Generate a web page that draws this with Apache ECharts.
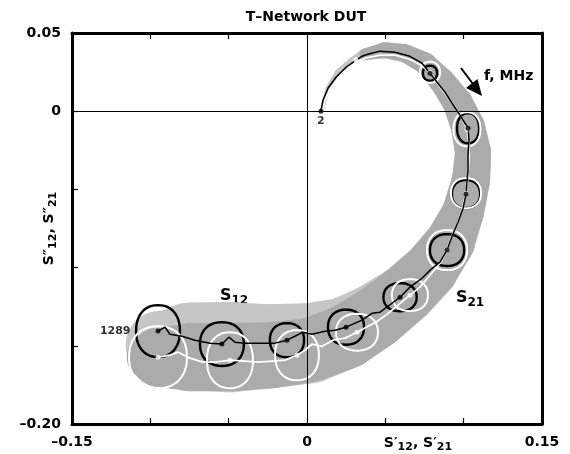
<!DOCTYPE html>
<html><head><meta charset="utf-8">
<script src="https://cdn.jsdelivr.net/npm/echarts@6/dist/echarts.min.js"></script>
<style>html,body{margin:0;padding:0;background:#fff}#c{width:570px;height:454px}</style>
</head><body><div id="c"></div>
<script>
// ---- tick labels ----
const xLabelValues = [-0.15, 0, 0.15];
const xLabelTexts = ['–0.15', '0', '0.15'];
const yLabelValues = [0.05, 0, -0.20];
const yLabelTexts = ['0.05', '0', '–0.20'];

// ---- S21 (black) trace ----
const s21Line = [
 [0.0089,0],[0.0102,0.0070],[0.0134,0.0147],[0.0185,0.0217],[0.0249,0.0281],[0.0313,0.0326],
 [0.0351,0.0351],[0.0389,0.0364],[0.0466,0.0384],[0.0562,0.0377],[0.0657,0.0351],[0.0734,0.0307],
 [0.0785,0.0243],[0.0830,0.0185],[0.0881,0.0121],[0.0926,0.0051],[0.0977,-0.0026],[0.1028,-0.0109],
 [0.1034,-0.0185],[0.1028,-0.0281],[0.1028,-0.0377],[0.1021,-0.0454],[0.1015,-0.0530],[0.0996,-0.0620],
 [0.0964,-0.0710],[0.0926,-0.0799],[0.0894,-0.0888],[0.0849,-0.0965],[0.0785,-0.1017],[0.0734,-0.1068],
 [0.0657,-0.1125],[0.0594,-0.1189],[0.0543,-0.1228],[0.0466,-0.1285],[0.0415,-0.1292],[0.0351,-0.1336],
 [0.0249,-0.1381],[0.0179,-0.1400],[0.0115,-0.1407],[0.0032,-0.1426],[-0.0026,-0.1413],[-0.0077,-0.1439],
 [-0.0128,-0.1464],[-0.0204,-0.1483],[-0.0300,-0.1483],[-0.0396,-0.1483],[-0.0460,-0.1477],[-0.0498,-0.1445],
 [-0.0543,-0.1489],[-0.0619,-0.1483],[-0.0715,-0.1464],[-0.0798,-0.1439],[-0.0875,-0.1426],[-0.0906,-0.1381],
 [-0.0951,-0.1406]
];
const s21Points = [[0.0785,0.0243],[0.1028,-0.0109],[0.1015,-0.0530],[0.0894,-0.0888],[0.0594,-0.1189],
 [0.0249,-0.1381],[-0.0128,-0.1464],[-0.0543,-0.1489],[-0.0951,-0.1406]];
const s21Unc = [[0.0045,0.0048],[0.0070,0.0096],[0.0090,0.0090],[0.0109,0.0102],[0.0106,0.0090],
 [0.0115,0.0112],[0.0109,0.0109],[0.0140,0.0140],[0.0140,0.0166]];

// ---- S12 (white) trace ----
const s12Line = [
 [0.0096,0],[0.0115,0.0070],[0.0147,0.0141],[0.0198,0.0211],[0.0262,0.0269],[0.0319,0.0313],
 [0.0370,0.0339],[0.0466,0.0358],[0.0562,0.0358],[0.0657,0.0332],[0.0728,0.0294],[0.0785,0.0249],
 [0.0836,0.0173],[0.0894,0.0096],[0.0945,0.0026],[0.0989,-0.0045],[0.1021,-0.0115],[0.1034,-0.0198],
 [0.1034,-0.0301],[0.1028,-0.0409],[0.1015,-0.0524],[0.0989,-0.0633],[0.0957,-0.0729],[0.0919,-0.0812],
 [0.0894,-0.0888],[0.0849,-0.0972],[0.0785,-0.1049],[0.0721,-0.1125],[0.0657,-0.1176],[0.0581,-0.1240],
 [0.0511,-0.1298],[0.0440,-0.1349],[0.0389,-0.1375],[0.0319,-0.1413],[0.0243,-0.1451],[0.0166,-0.1464],
 [0.0096,-0.1503],[0.0032,-0.1490],[-0.0013,-0.1528],[-0.0064,-0.1560],[-0.0140,-0.1592],[-0.0223,-0.1598],
 [-0.0313,-0.1605],[-0.0396,-0.1598],[-0.0492,-0.1592],[-0.0587,-0.1605],[-0.0664,-0.1605],[-0.0747,-0.1579],
 [-0.0823,-0.1541],[-0.0875,-0.1560],[-0.0951,-0.1573]
];
const s12Points = [[0.0313,0.0326],[0.0785,0.0249],[0.1021,-0.0115],[0.1015,-0.0524],[0.0894,-0.0888],[0.0657,-0.1176],
 [0.0319,-0.1413],[-0.0064,-0.1560],[-0.0492,-0.1592],[-0.0951,-0.1573]];
const s12Unc = [[0.0012,0.0012],[0.0064,0.0067],[0.0086,0.0109],[0.0096,0.0096],[0.0128,0.0128],[0.0115,0.0102],
 [0.0134,0.0118],[0.0140,0.0160],[0.0147,0.0179],[0.0185,0.0198]];

// ---- uncertainty band: [x, y, half-width] ----
const bandLight = [
 [0.0096,0.0010,0.0012],[0.0134,0.0147,0.0015],[0.0198,0.0250,0.0018],[0.0287,0.0326,0.0019],
 [0.0370,0.0364,0.0038],[0.0498,0.0390,0.0051],[0.0626,0.0371,0.0058],[0.0753,0.0307,0.0070],
 [0.0868,0.0185,0.0083],[0.0964,0.0051,0.0096],[0.1028,-0.0102,0.0109],[0.1060,-0.0262,0.0115],
 [0.1047,-0.0441,0.0122],[0.0996,-0.0646,0.0134],[0.0913,-0.0838,0.0160],[0.0785,-0.1017,0.0179],
 [0.0626,-0.1170,0.0192],[0.0434,-0.1311,0.0211],[0.0243,-0.1419,0.0230],[0.0019,-0.1483,0.0256],
 [-0.0236,-0.1503,0.0269],[-0.0492,-0.1509,0.0288],[-0.0747,-0.1503,0.0280],[-0.0938,-0.1496,0.0220],
 [-0.1002,-0.1496,0.0150]
];
const bandDark = [
 [0.0370,0.0364,0.0036],[0.0498,0.0390,0.0050],[0.0626,0.0371,0.0057],[0.0753,0.0307,0.0069],
 [0.0868,0.0185,0.0082],[0.0964,0.0051,0.0095],[0.1028,-0.0102,0.0108],[0.1060,-0.0262,0.0114],
 [0.1047,-0.0441,0.0121],[0.0996,-0.0646,0.0133],[0.0913,-0.0838,0.0158],[0.0785,-0.1017,0.0176],
 [0.0626,-0.1170,0.0188],[0.0434,-0.1324,0.0198],[0.0243,-0.1445,0.0205],[0.0019,-0.1528,0.0205],
 [-0.0236,-0.1560,0.0211],[-0.0492,-0.1573,0.0218],[-0.0747,-0.1573,0.0218],[-0.0938,-0.1573,0.0192],
 [-0.1010,-0.1573,0.0141]
];

const startPoint = [0.0089, 0];
const startLabel = '2';
const endPoint = [-0.0951, -0.1406];
const endLabel = '1289';

const FONT = 'DejaVu Sans';

function fmt(values, texts){
  return function(v){
    for (let i=0;i<values.length;i++) if (Math.abs(v-values[i])<1e-9) return texts[i];
    return '';
  };
}

function tube(nodes, color){
  return function(params, api){
    if (params.dataIndex !== 0) return null;
    const pts = nodes.map(n => api.coord([n[0], n[1]]));
    const rs = nodes.map(n => api.size([n[2], n[2]])[0]);
    const children = [];
    for (let i=0;i<pts.length;i++){
      children.push({type:'circle', shape:{cx:pts[i][0], cy:pts[i][1], r:rs[i]}, style:{fill:color}});
      if (i < pts.length-1){
        const a = pts[i], b = pts[i+1];
        const dx = b[0]-a[0], dy = b[1]-a[1];
        const L = Math.sqrt(dx*dx+dy*dy) || 1;
        const nx = -dy/L, ny = dx/L;
        children.push({type:'polygon', shape:{points:[
          [a[0]+nx*rs[i], a[1]+ny*rs[i]], [b[0]+nx*rs[i+1], b[1]+ny*rs[i+1]],
          [b[0]-nx*rs[i+1], b[1]-ny*rs[i+1]], [a[0]-nx*rs[i], a[1]-ny*rs[i]]]}, style:{fill:color}});
      }
    }
    return {type:'group', children};
  };
}

function blob(color, width){
  return function(params, api){
    const c = api.coord([api.value(0), api.value(1)]);
    const s = api.size([api.value(2), api.value(3)]);
    const pts = [];
    const N = 48, e = 0.9;
    for (let k=0;k<N;k++){
      const t = k/N*Math.PI*2;
      const ct = Math.cos(t), st = Math.sin(t);
      pts.push([c[0] + s[0]*Math.sign(ct)*Math.pow(Math.abs(ct), e), c[1] + s[1]*Math.sign(st)*Math.pow(Math.abs(st), e)]);
    }
    return {type:'polygon', shape:{points:pts}, style:{fill:'none', stroke:color, lineWidth:width}};
  };
}

const axisCommon = {
  type:'value',
  axisLine:{show:true, onZero:false, lineStyle:{color:'#000', width:3}},
  axisTick:{show:true, inside:true, length:6, lineStyle:{color:'#000', width:1.2}},
  splitLine:{show:false}
};
const labelStyle = {color:'#000', fontWeight:'bold', fontSize:14, fontFamily:FONT};
const subRich = {
  s:{fontSize:14, fontWeight:'bold', fontFamily:FONT, color:'#000', fill:'#000', lineHeight:20, verticalAlign:'middle'},
  b:{fontSize:11, fontWeight:'bold', fontFamily:FONT, color:'#000', fill:'#000', lineHeight:10, verticalAlign:'bottom'}
};
const bigRich = {
  s:{fontSize:16, fontWeight:'bold', fontFamily:FONT, fill:'#000', lineHeight:22, verticalAlign:'middle'},
  b:{fontSize:12, fontWeight:'bold', fontFamily:FONT, fill:'#000', lineHeight:11, verticalAlign:'bottom'}
};

const chart = echarts.init(document.getElementById('c'), null, {renderer:'canvas'});
chart.setOption({
  backgroundColor:'#fff',
  animation:false,
  grid:{left:72, right:28, top:33, bottom:30},
  xAxis:[
    Object.assign({}, axisCommon, {position:'bottom', min:-0.15, max:0.15, interval:0.05,
      axisLabel:Object.assign({}, labelStyle, {margin:11, formatter:fmt(xLabelValues, xLabelTexts)})}),
    Object.assign({}, axisCommon, {position:'top', min:-0.15, max:0.15, interval:0.05, axisLabel:{show:false}})
  ],
  yAxis:[
    Object.assign({}, axisCommon, {position:'left', min:-0.2, max:0.05, interval:0.05,
      axisLabel:Object.assign({}, labelStyle, {margin:11, formatter:fmt(yLabelValues, yLabelTexts)}),
      name:'{s|S″}{b|12}{s|, S″}{b|21}', nameLocation:'middle', nameGap:13, nameRotate:90, nameMoveOverlap:false,
      nameTextStyle:{rich:subRich}}),
    Object.assign({}, axisCommon, {position:'right', min:-0.2, max:0.05, interval:0.05, axisTick:{show:false}, axisLabel:{show:false}})
  ],
  graphic:[
    {type:'text', x:306, y:17, style:{text:'T–Network DUT', fontSize:14, fontWeight:'bold', fontFamily:FONT, fill:'#000', align:'center', verticalAlign:'middle'}},
    {type:'text', x:418, y:443, style:{text:'{s|S′}{b|12}{s|, S′}{b|21}', align:'center', verticalAlign:'middle', rich:subRich}},
    {type:'text', x:234, y:296, style:{text:'{s|S}{b|12}', align:'center', verticalAlign:'middle', rich:bigRich}},
    {type:'text', x:470, y:298, style:{text:'{s|S}{b|21}', align:'center', verticalAlign:'middle', rich:bigRich}},
    {type:'text', x:484, y:76, style:{text:'f, MHz', fontSize:14, fontWeight:'bold', fontFamily:FONT, fill:'#000', align:'left', verticalAlign:'middle'}},
    {type:'line', shape:{x1:461, y1:68, x2:473, y2:84}, style:{stroke:'#000', lineWidth:2}},
    {type:'polygon', shape:{points:[[482,96],[477.5,79],[466,88]]}, style:{fill:'#000'}}
  ],
  series:[
    {type:'custom', name:'band light', renderItem:tube(bandLight, '#c6c6c6'), data:[[bandLight[0][0], bandLight[0][1]]], encode:{x:0,y:1}, z:1, silent:true},
    {type:'custom', name:'band dark', renderItem:tube(bandDark, '#ababab'), data:[[bandDark[0][0], bandDark[0][1]]], encode:{x:0,y:1}, z:1.5, silent:true},
    {type:'custom', name:'S21 unc', renderItem:blob('#000', 2.4), data:s21Points.map((p,i)=>[p[0],p[1],s21Unc[i][0],s21Unc[i][1]]), encode:{x:0,y:1}, z:3, silent:true},
    {type:'custom', name:'S12 unc', renderItem:blob('#fff', 2), data:s12Points.map((p,i)=>[p[0],p[1],s12Unc[i][0],s12Unc[i][1]]), encode:{x:0,y:1}, z:4, silent:true},
    {type:'line', name:'S12', data:s12Line, showSymbol:false, lineStyle:{color:'#fff', width:1.8}, z:5, silent:true},
    {type:'line', name:'S21', data:s21Line, showSymbol:false, lineStyle:{color:'#000', width:1.5}, z:6, silent:true},
    {type:'scatter', name:'S12 pts', data:s12Points, symbolSize:5, itemStyle:{color:'#fff'}, z:7, silent:true},
    {type:'scatter', name:'S21 pts', data:s21Points, symbolSize:5, itemStyle:{color:'#000'}, z:8, silent:true},
    {type:'scatter', name:'start', data:[startPoint], symbolSize:5, itemStyle:{color:'#000'}, z:8, silent:true,
      label:{show:true, position:'bottom', distance:2, formatter:startLabel, color:'#000', fontWeight:'bold', fontSize:11, fontFamily:FONT}},
    {type:'scatter', name:'end', data:[endPoint], symbolSize:1, itemStyle:{color:'#000'}, z:8, silent:true,
      label:{show:true, position:'left', distance:27, formatter:endLabel, color:'#000', fontWeight:'bold', fontSize:11, fontFamily:FONT}},
    {type:'line', name:'zero', data:[], z:9, silent:true,
      markLine:{silent:true, symbol:'none', label:{show:false}, animation:false,
        lineStyle:{color:'#000', width:1, type:'solid'}, data:[{xAxis:0},{yAxis:0}]}}
  ]
});
</script></body></html>
